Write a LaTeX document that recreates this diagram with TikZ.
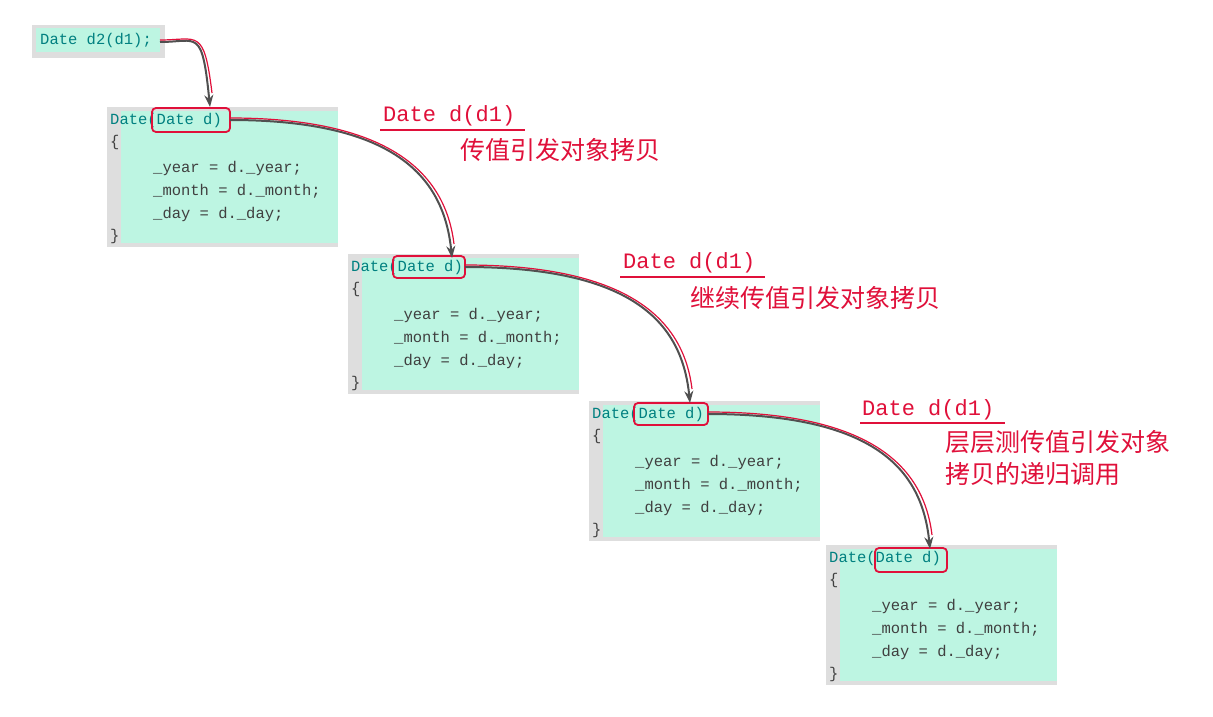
\documentclass[tikz,border=0pt]{standalone}
\usepackage{fontspec}
\setmonofont{Liberation Mono}
\newfontfamily\cjk{Noto Sans CJK SC}
\usetikzlibrary{arrows.meta,calc}
\definecolor{mint}{HTML}{BDF5E2}
\definecolor{gbg}{HTML}{DEDEDE}
\definecolor{rd}{HTML}{E0103A}
\definecolor{dk}{HTML}{505050}
\tikzset{
 code/.style={anchor=west,inner sep=0pt,font=\ttfamily\fontsize{15.5}{15.5}\selectfont,text=black!75},
 hdr/.style={code,text=teal},
 hl/.style={draw=rd,line width=1.8pt,rounded corners=4pt},
 lbl/.style={anchor=west,inner sep=0pt,text=rd,font=\ttfamily\fontsize{22}{22}\selectfont},
 zh/.style={anchor=west,inner sep=0pt,text=rd,font=\cjk\fontsize{25}{25}\selectfont},
 ul/.style={draw=rd,line width=1.6pt},
 arr/.style={line width=2pt,-{Stealth[length=12pt,width=9pt]}},
}
\newcommand{\cbox}[3]{% x y name
 \fill[gbg] (#1,#2) rectangle ++(231,140);
 \fill[mint] (#1+14,#2+4) rectangle ++(217,132);
 \node[hdr] (#3h) at (#1+3,#2+13) {Date(Date d)};
 \node[code] (#3b) at (#1+3,#2+35) {\{};
 \node[code] (#3y) at (#1+46,#2+61) {\_year = d.\_year;};
 \node[code] (#3m) at (#1+46,#2+84) {\_month = d.\_month;};
 \node[code] (#3d) at (#1+46,#2+107) {\_day = d.\_day;};
 \node[code] (#3e) at (#1+3,#2+129) {\}};
}
\begin{document}
\begin{tikzpicture}[x=1pt,y=-1pt]
\useasboundingbox (0,0) rectangle (1213,717);
\fill[white] (0,0) rectangle (1213,717);
\fill[gbg] (32,25) rectangle (165,58);
\fill[mint] (36,28) rectangle (160,52);
\node[hdr] (top) at (40,40) {Date d2(d1);};
\cbox{107}{107}{a}
\cbox{348}{254}{b}
\cbox{589}{401}{c}
\cbox{826}{545}{d}
\draw[hl] (152,108) rectangle (230,132); \coordinate (ra) at (230,120); \coordinate (ta) at (210,107);
\draw[hl] (393,256) rectangle (465,278); \coordinate (rb) at (465,267); \coordinate (tb) at (452,258);
\draw[hl] (634,403) rectangle (708,425); \coordinate (rc) at (708,414); \coordinate (tc) at (690,403);
\draw[hl] (875,548) rectangle (947,572); \coordinate (td) at (930,549);
\coordinate (tp) at (160,42);
\foreach \s/\e in {tp/ta,ra/tb,rb/tc,rc/td}{
 \draw[arr,dk] (\s) .. controls ($(\s)!0.75!(\e|-\s)$) and ($(\e)+(-8,-80)$) .. (\e);
 \draw[line width=1.2pt,rd] ($(\s)+(0,-2)$) .. controls ($(\s)!0.75!(\e|-\s)+(0,-2)$) and ($(\e)+(-6,-80)$) .. ($(\e)+(2,-14)$);
}
\node[lbl] (l1) at (383,116) {Date d(d1)}; \draw[ul] (380,130) -- (525,130);
\node[zh] (z1) at (460,150) {传值引发对象拷贝};
\node[lbl] (l2) at (623,263) {Date d(d1)}; \draw[ul] (620,277) -- (765,277);
\node[zh] (z2) at (690,298) {继续传值引发对象拷贝};
\node[lbl] (l3) at (862,410) {Date d(d1)}; \draw[ul] (860,423) -- (1005,423);
\node[zh] (z3) at (945,442) {层层测传值引发对象};
\node[zh] (z4) at (945,474) {拷贝的递归调用};
\end{tikzpicture}
\end{document}
